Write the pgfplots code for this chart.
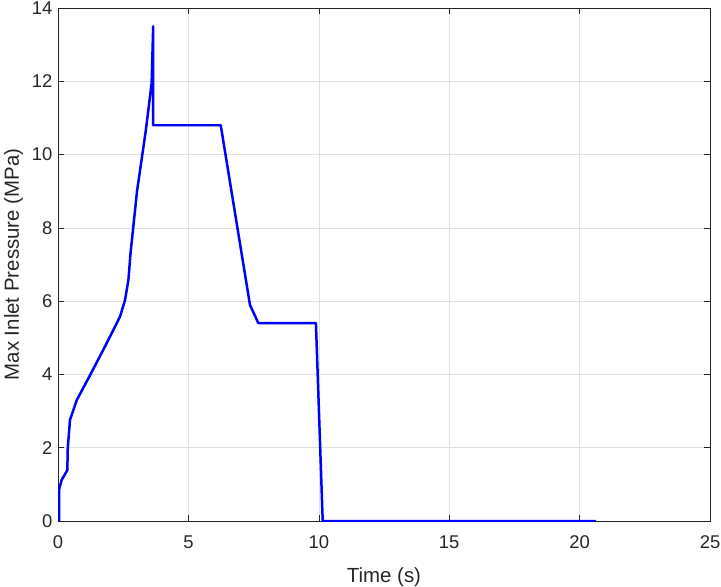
\documentclass[border=0pt]{standalone}
\usepackage{pgfplots}
\pgfplotsset{compat=1.18}
\usepackage{fontspec}
\setmainfont{Liberation Sans}
\definecolor{axc}{RGB}{38,38,38}
\definecolor{gridc}{RGB}{223,223,223}
\begin{document}
\begin{tikzpicture}
\begin{axis}[
  scale only axis,
  width=652bp, height=513bp,
  xmin=0, xmax=25, ymin=0, ymax=14,
  xtick={0,5,...,25}, ytick={0,2,...,14},
  axis line style={axc, line width=0.6pt},
  tick style={axc, line width=0.6pt},
  major tick length=6bp,
  tick align=inside, tick pos=both,
  grid=major,
  major grid style={gridc, line width=0.6pt},
  /pgf/number format/assume math mode=true,
  tick label style={font=\fontsize{18.5}{20}\selectfont, text=axc},
  label style={font=\fontsize{20.5}{22}\selectfont, text=axc},
  xlabel={Time (s)}, ylabel={Max Inlet Pressure (MPa)},
  xticklabel style={yshift=-11bp},
  yticklabel style={xshift=-2bp},
  xlabel style={yshift=-12bp},
  ylabel style={yshift=2bp},
]
\addplot[color={rgb,255:red,0;green,0;blue,255}, line width=2.5pt, line join=round] coordinates {
(0.04,0) (0.04,0.85) (0.14,1.12) (0.36,1.39) (0.37,1.94) (0.46,2.76)
(0.72,3.30) (1.23,3.98) (1.80,4.76) (2.38,5.58) (2.57,6.03) (2.70,6.58)
(2.78,7.30) (3.03,9.00) (3.37,10.67) (3.59,11.95) (3.65,13.50) (3.65,10.80)
(6.24,10.80) (7.36,5.90) (7.68,5.40) (9.89,5.40) (10.15,0) (20.63,0)
};
\end{axis}
\pgfresetboundingbox
\path ([xshift=-58bp,yshift=-66bp]current axis.south west) rectangle ([xshift=11bp,yshift=8bp]current axis.north east);
\end{tikzpicture}
\end{document}
